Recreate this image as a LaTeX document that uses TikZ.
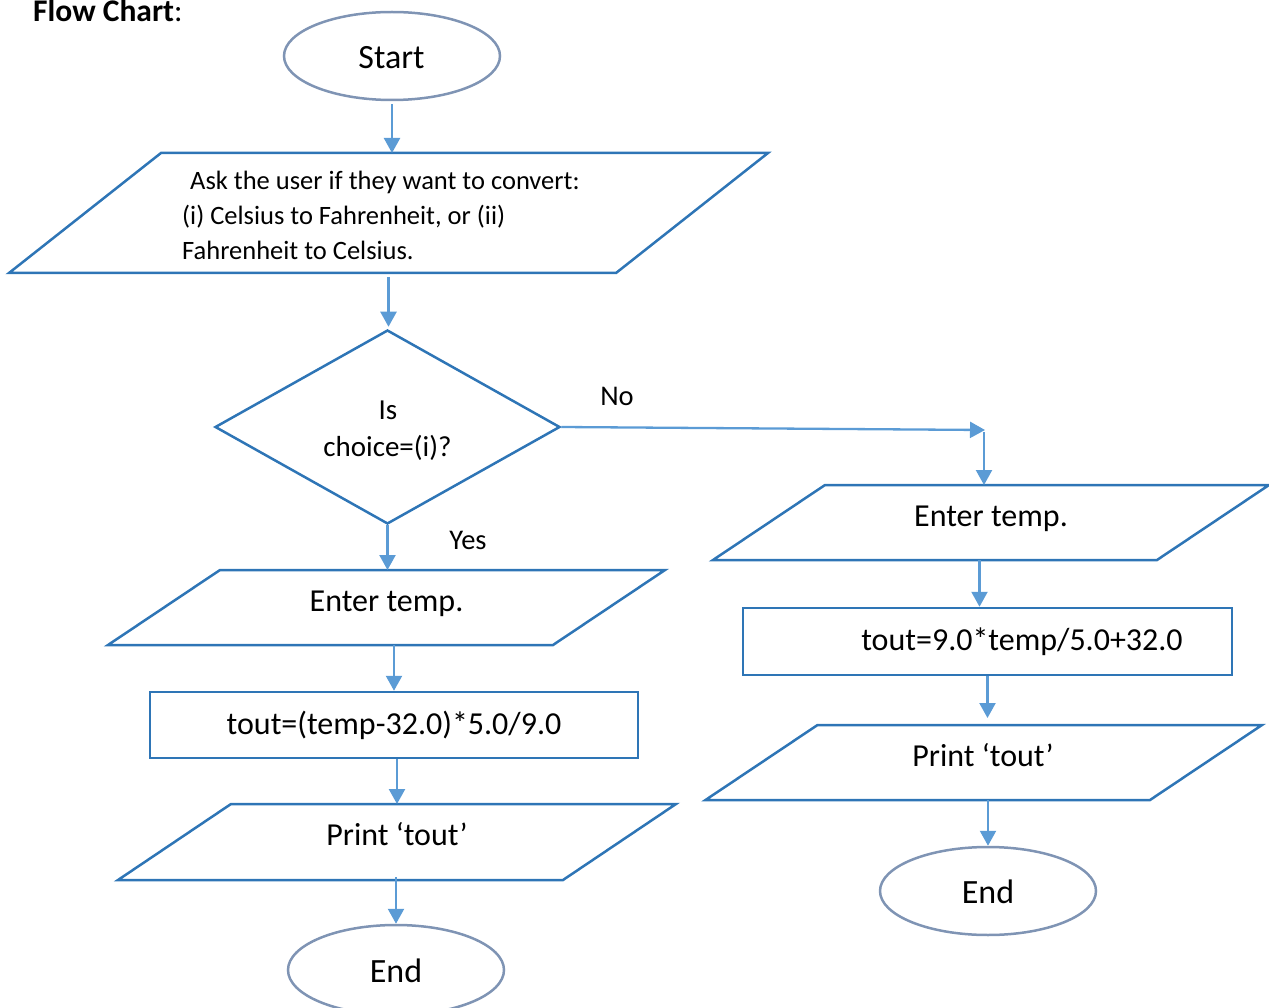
\documentclass[tikz,border=0pt]{standalone}
\usepackage{fontspec}
\setmainfont{Carlito}
\usetikzlibrary{arrows.meta,shapes.geometric}
\definecolor{boxblue}{RGB}{46,117,182}
\definecolor{arrblue}{RGB}{91,155,213}
\definecolor{ellgray}{RGB}{127,148,180}
\newcommand{\drawpara}[2]{%
  \draw[paraline] ([xshift=#2pt]#1.north west) -- ([xshift=#2pt]#1.north east)
    -- ([xshift=-#2pt]#1.south east) -- ([xshift=-#2pt]#1.south west) -- cycle;}
\begin{document}
\begin{tikzpicture}[x=1pt,y=-1pt,
  paraline/.style={draw=boxblue,line width=2.5pt,line join=miter},
  pbox/.style={inner sep=0pt,outer sep=0pt},
  proc/.style={draw=boxblue,line width=2.5pt,rectangle,inner sep=0pt},
  term/.style={draw=ellgray,line width=2.5pt,ellipse,inner sep=0pt,minimum width=216pt,minimum height=88pt},
  decision/.style={draw=boxblue,line width=2.5pt,diamond,inner sep=0pt},
  arr/.style={draw=arrblue,line width=2.3pt,-{Triangle[length=15pt,width=16pt]}},
  txt/.style={inner sep=0pt,anchor=base},
  ftitle/.style={font=\fontsize{31.5}{36}\selectfont},
  fterm/.style={font=\fontsize{34}{40}\selectfont},
  fbox/.style={font=\fontsize{32}{38}\selectfont},
  fask/.style={font=\fontsize{26.5}{35}\selectfont},
  fdec/.style={font=\fontsize{29}{37}\selectfont},
  flab/.style={font=\fontsize{28.5}{34}\selectfont}]
\useasboundingbox (0,0) rectangle (1269,1008);

% title
\node[txt,anchor=base west,ftitle] (title) at (33,22) {\textbf{Flow Chart}:};

% shapes
\node[term] (start) at (392,56) {};
\node[pbox,minimum width=607pt,minimum height=120pt] (ask) at (388.5,213) {};
\drawpara{ask}{76}
\node[decision,minimum width=345pt,minimum height=194pt] (dec) at (387.5,427) {};

\node[pbox,minimum width=445pt,minimum height=75pt] (lenter) at (386.5,607.5) {};
\drawpara{lenter}{56}
\node[proc,minimum width=488pt,minimum height=66pt] (lrect) at (394,725) {};
\node[pbox,minimum width=445pt,minimum height=76pt] (lprint) at (397,842) {};
\drawpara{lprint}{56.5}
\node[term,minimum height=90pt] (lend) at (396,970) {};

\node[pbox,minimum width=444pt,minimum height=75pt] (renter) at (991,522.5) {};
\drawpara{renter}{56}
\node[proc,minimum width=489pt,minimum height=67pt] (rrect) at (987.5,641.5) {};
\node[pbox,minimum width=444.5pt,minimum height=75pt] (rprint) at (983.75,762.5) {};
\drawpara{rprint}{56}
\node[term] (rend) at (988,891) {};

% texts
\node[txt,fterm] (tstart) at (391.5,69) {Start};
\node[txt,anchor=base west,fask] (ask1) at (190,190) {Ask the user if they want to convert:};
\node[txt,anchor=base west,fask] (ask2) at (182,225) {(i) Celsius to Fahrenheit, or (ii)};
\node[txt,anchor=base west,fask] (ask3) at (182,260) {Fahrenheit to Celsius.};
\node[txt,fdec] (dec1) at (388,419) {Is};
\node[txt,fdec] (dec2) at (387.5,456) {choice=(i)?};
\node[txt,flab] (tno) at (617,405) {No};
\node[txt,flab] (tyes) at (468,549) {Yes};
\node[txt,fbox] (tlenter) at (386.5,611) {Enter temp.};
\node[txt,fbox] (tlrect) at (394,734) {tout=(temp-32.0)*5.0/9.0};
\node[txt,fbox] (tlprint) at (397,845) {Print ‘tout’};
\node[txt,fterm] (tlend) at (396,982) {End};
\node[txt,fbox] (trenter) at (991,526) {Enter temp.};
\node[txt,fbox] (trrect) at (1022,650) {tout=9.0*temp/5.0+32.0};
\node[txt,fbox] (trprint) at (983,766) {Print ‘tout’};
\node[txt,fterm] (trend) at (988,903) {End};

% connectors
\draw[arr,shorten <=3pt] (start.south) -- (start.south |- ask.north);
\draw[arr,shorten <=4pt,shorten >=2pt] (ask.south) -- (ask.south |- dec.north);
\draw[arr] (dec.south) -- (dec.south |- lenter.north);
\draw[arr] (lenter.south -| lrect.north) -- (lrect.north);
\draw[arr] (lrect.south -| lprint.north) -- (lprint.north);
\draw[arr,shorten <=-3pt] (lprint.south -| lend.north) -- (lend.north);

\coordinate (noturn) at (985,430);
\draw[arr] (dec.east) -- (noturn);
\coordinate (nodown) at (984,432);
\draw[arr] (nodown) -- (nodown |- renter.north);
\coordinate (r1) at ([xshift=-8pt]rrect.north);
\draw[arr] (renter.south -| r1) -- (r1);
\coordinate (r2) at (rrect.south |- rprint.north);
\draw[arr] (rrect.south) -- ([yshift=7pt]r2);
\draw[arr] (rprint.south -| rend.north) -- (rend.north);
\end{tikzpicture}
\end{document}
